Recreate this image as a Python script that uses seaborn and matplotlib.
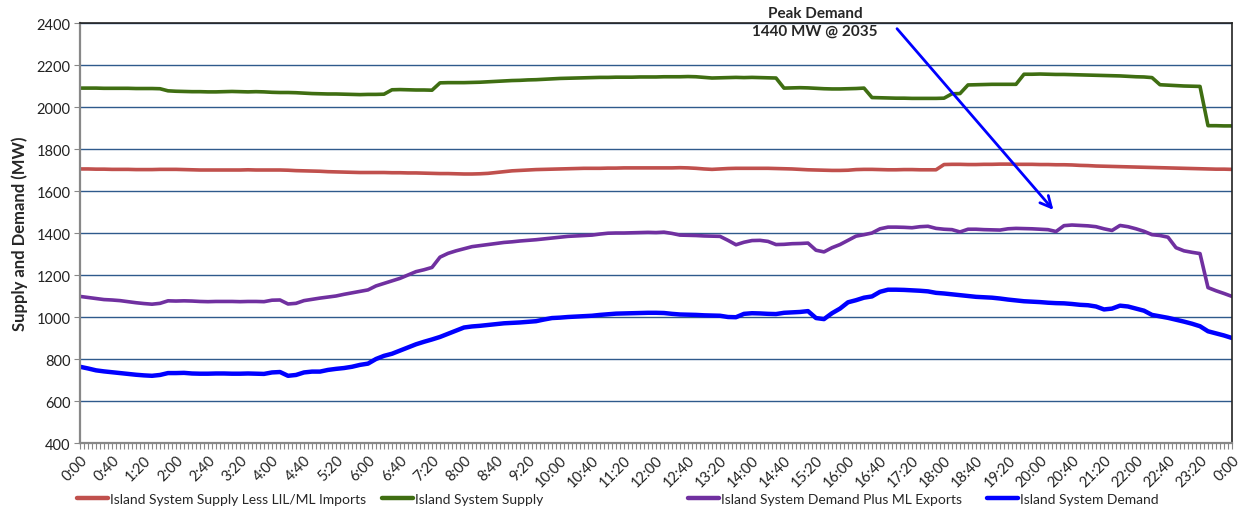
import numpy as np
import pandas as pd
import matplotlib
matplotlib.use("Agg")
import matplotlib.pyplot as plt
import seaborn as sns

# ---- data (10-minute readings, 0:00 .. 24:00) ----
minutes = list(range(0, 1441, 10))

supply_less_imports = [
    1705, 1705, 1704, 1704, 1703, 1703,
    1703, 1702, 1702, 1702, 1703, 1703,
    1703, 1702, 1701, 1700, 1700, 1700,
    1700, 1700, 1700, 1701, 1700, 1700,
    1700, 1700, 1699, 1697, 1696, 1695,
    1694, 1692, 1691, 1690, 1689, 1688,
    1688, 1688, 1688, 1687, 1687, 1686,
    1686, 1685, 1684, 1683, 1683, 1682,
    1681, 1681, 1682, 1684, 1688, 1692,
    1696, 1698, 1700, 1702, 1703, 1704,
    1705, 1706, 1707, 1708, 1708, 1708,
    1709, 1709, 1710, 1710, 1710, 1710,
    1710, 1710, 1710, 1711, 1710, 1708,
    1705, 1703, 1705, 1707, 1708, 1708,
    1708, 1708, 1708, 1707, 1706, 1705,
    1703, 1701, 1700, 1699, 1698, 1698,
    1699, 1702, 1703, 1703, 1702, 1701,
    1701, 1702, 1702, 1701, 1701, 1701,
    1726, 1727, 1727, 1726, 1726, 1727,
    1727, 1728, 1728, 1727, 1727, 1727,
    1726, 1726, 1725, 1725, 1724, 1722,
    1721, 1719, 1718, 1717, 1716, 1715,
    1714, 1713, 1712, 1711, 1710, 1709,
    1708, 1707, 1706, 1705, 1704, 1704,
    1703,
]

supply = [
    2090, 2090, 2090, 2089, 2089, 2089,
    2089, 2088, 2088, 2088, 2087, 2077,
    2075, 2074, 2073, 2073, 2072, 2072,
    2073, 2074, 2073, 2072, 2073, 2072,
    2070, 2069, 2069, 2068, 2066, 2064,
    2063, 2062, 2062, 2061, 2060, 2059,
    2060, 2060, 2061, 2082, 2083, 2082,
    2081, 2081, 2080, 2115, 2116, 2116,
    2116, 2117, 2118, 2120, 2122, 2124,
    2126, 2127, 2129, 2130, 2132, 2134,
    2136, 2137, 2138, 2139, 2140, 2141,
    2141, 2142, 2142, 2142, 2143, 2143,
    2143, 2144, 2144, 2144, 2145, 2144,
    2141, 2138, 2139, 2140, 2141, 2140,
    2141, 2140, 2139, 2138, 2090, 2091,
    2092, 2091, 2089, 2087, 2086, 2086,
    2087, 2088, 2090, 2045, 2044, 2043,
    2042, 2042, 2041, 2041, 2041, 2041,
    2042, 2063, 2064, 2105, 2106, 2107,
    2108, 2108, 2108, 2108, 2156, 2156,
    2157, 2156, 2155, 2155, 2154, 2153,
    2152, 2151, 2150, 2149, 2148, 2146,
    2144, 2143, 2140, 2106, 2104, 2102,
    2100, 2099, 2098, 1911, 1911, 1910,
    1910,
]

demand_plus_exports = [
    1098, 1093, 1088, 1083, 1081, 1078,
    1073, 1068, 1064, 1061, 1065, 1077,
    1076, 1077, 1076, 1074, 1073, 1074,
    1074, 1074, 1073, 1074, 1074, 1073,
    1080, 1081, 1062, 1065, 1078, 1084,
    1090, 1095, 1100, 1108, 1115, 1122,
    1129, 1148, 1160, 1172, 1184, 1200,
    1216, 1225, 1236, 1285, 1303, 1315,
    1325, 1335, 1340, 1345, 1350, 1355,
    1358, 1362, 1365, 1368, 1372, 1376,
    1380, 1384, 1386, 1388, 1390, 1395,
    1399, 1400, 1400, 1401, 1402, 1403,
    1402, 1404, 1398, 1390, 1389, 1388,
    1386, 1385, 1384, 1365, 1344, 1356,
    1364, 1365, 1360, 1345, 1346, 1349,
    1350, 1352, 1318, 1310, 1330, 1345,
    1365, 1385, 1392, 1400, 1420, 1428,
    1428, 1427, 1425, 1430, 1432, 1422,
    1418, 1416, 1405, 1418, 1418, 1416,
    1415, 1414, 1420, 1422, 1421, 1420,
    1418, 1416, 1407, 1435, 1438, 1436,
    1434, 1430, 1420, 1412, 1436, 1430,
    1420, 1408, 1392, 1388, 1380, 1330,
    1315, 1308, 1302, 1140, 1125, 1112,
    1098,
]

demand = [
    763, 755, 746, 741, 737, 733,
    729, 725, 722, 720, 724, 733,
    733, 734, 731, 730, 730, 731,
    731, 730, 730, 731, 730, 729,
    736, 738, 720, 724, 736, 740,
    740, 748, 753, 757, 763, 772,
    778, 800, 815, 825, 840, 855,
    870, 882, 893, 905, 920, 935,
    950, 955, 958, 962, 966, 970,
    972, 974, 977, 980, 988, 995,
    997, 1000, 1002, 1004, 1006, 1010,
    1013, 1016, 1017, 1018, 1019, 1020,
    1020, 1019, 1015, 1012, 1011, 1010,
    1008, 1007, 1006, 1000, 999, 1015,
    1018, 1017, 1015, 1014, 1020, 1022,
    1024, 1028, 995, 990, 1018, 1040,
    1070, 1080, 1092, 1098, 1120, 1130,
    1130, 1129, 1127, 1125, 1122, 1115,
    1112, 1108, 1104, 1100, 1096, 1094,
    1092, 1088, 1083, 1079, 1075, 1073,
    1071, 1068, 1066, 1065, 1062, 1058,
    1056, 1050, 1036, 1040, 1054, 1050,
    1040, 1030, 1010, 1003, 996, 987,
    978, 968, 956, 932, 922, 912,
    900,
]

series_names = [
    "Island System Supply Less LIL/ML Imports",
    "Island System Supply",
    "Island System Demand Plus ML Exports",
    "Island System Demand",
]
series_colors = ["#C0504D", "#3F6E12", "#7030A0", "#0000FF"]

tick_minutes = list(range(0, 1441, 40))
tick_labels = [f"{(m // 60) % 24}:{m % 60:02d}" for m in tick_minutes]

y_ticks = list(range(400, 2401, 200))

annotation_text = "Peak Demand\n1440 MW @ 2035"

# ---- build long table ----
frames = []
for name, vals in zip(series_names,
                      [supply_less_imports, supply, demand_plus_exports, demand]):
    assert len(vals) == len(minutes), (name, len(vals))
    frames.append(pd.DataFrame({"minute": minutes, "MW": vals, "series": name}))
df = pd.concat(frames, ignore_index=True)

sns.set_theme(style="white")
plt.rcParams["font.family"] = ["Lato", "DejaVu Sans"]

fig = plt.figure(figsize=(12.49, 5.10), dpi=100)
ax = fig.add_axes([80 / 1249, 1 - 444 / 510, (1232 - 80) / 1249, (444 - 24) / 510])

sns.lineplot(
    data=df, x="minute", y="MW", hue="series", hue_order=series_names,
    palette=dict(zip(series_names, series_colors)), ax=ax, linewidth=2.6,
    legend=False,
)
ax.lines[3].set_linewidth(3.2)

ax.set_xlim(0, 1440)
ax.set_ylim(400, 2400)
ax.set_yticks(y_ticks)
ax.set_yticklabels([str(v) for v in y_ticks], fontsize=10.5, color="#222222")
ax.set_xticks(tick_minutes)
ax.set_xticklabels(tick_labels, rotation=45, ha="right", rotation_mode="anchor",
                   fontsize=10.5, color="#222222")
ax.set_xticks(list(range(0, 1441, 5)), minor=True)
ax.tick_params(axis="x", which="both", length=4, width=0.8, color="#888888",
               direction="out", bottom=True, pad=3)
ax.tick_params(axis="y", which="both", length=4, width=0.8, color="#888888",
               direction="out", left=True, pad=3)

ax.set_xlabel("")
ax.set_ylabel("Supply and Demand (MW)", fontsize=12, fontweight="bold", labelpad=6)

ax.yaxis.grid(True, color="#2F5A8C", linewidth=1.0)
ax.xaxis.grid(False)
ax.set_axisbelow(True)

for side in ["left", "bottom"]:
    ax.spines[side].set_color("#888888")
    ax.spines[side].set_linewidth(1.6)
for side in ["top", "right"]:
    ax.spines[side].set_color("#222222")
    ax.spines[side].set_linewidth(1.2)
    ax.spines[side].set_visible(True)

# annotation
ax.annotate("", xy=(1219, 1500), xytext=(1019, 2383),
            arrowprops=dict(arrowstyle="->", color="#0000FF", lw=2,
                            mutation_scale=20),
            annotation_clip=False)
ax.text(919, 2405, annotation_text, ha="center", va="center", fontsize=11,
        fontweight="bold", linespacing=1.3, clip_on=False)

# legend: one entry per block, placed along the bottom
legend_x = [77, 382, 688, 987]
for name, color, lx in zip(series_names, series_colors, legend_x):
    leg = fig.legend([plt.Line2D([], [], color=color, lw=3.2)], [name],
                     loc="center left", bbox_to_anchor=(lx / 1249, 10 / 510),
                     frameon=False, fontsize=10, handlelength=2.2,
                     handletextpad=0.2, borderpad=0.0, borderaxespad=0.0)

fig.savefig("out.png", dpi=100)
